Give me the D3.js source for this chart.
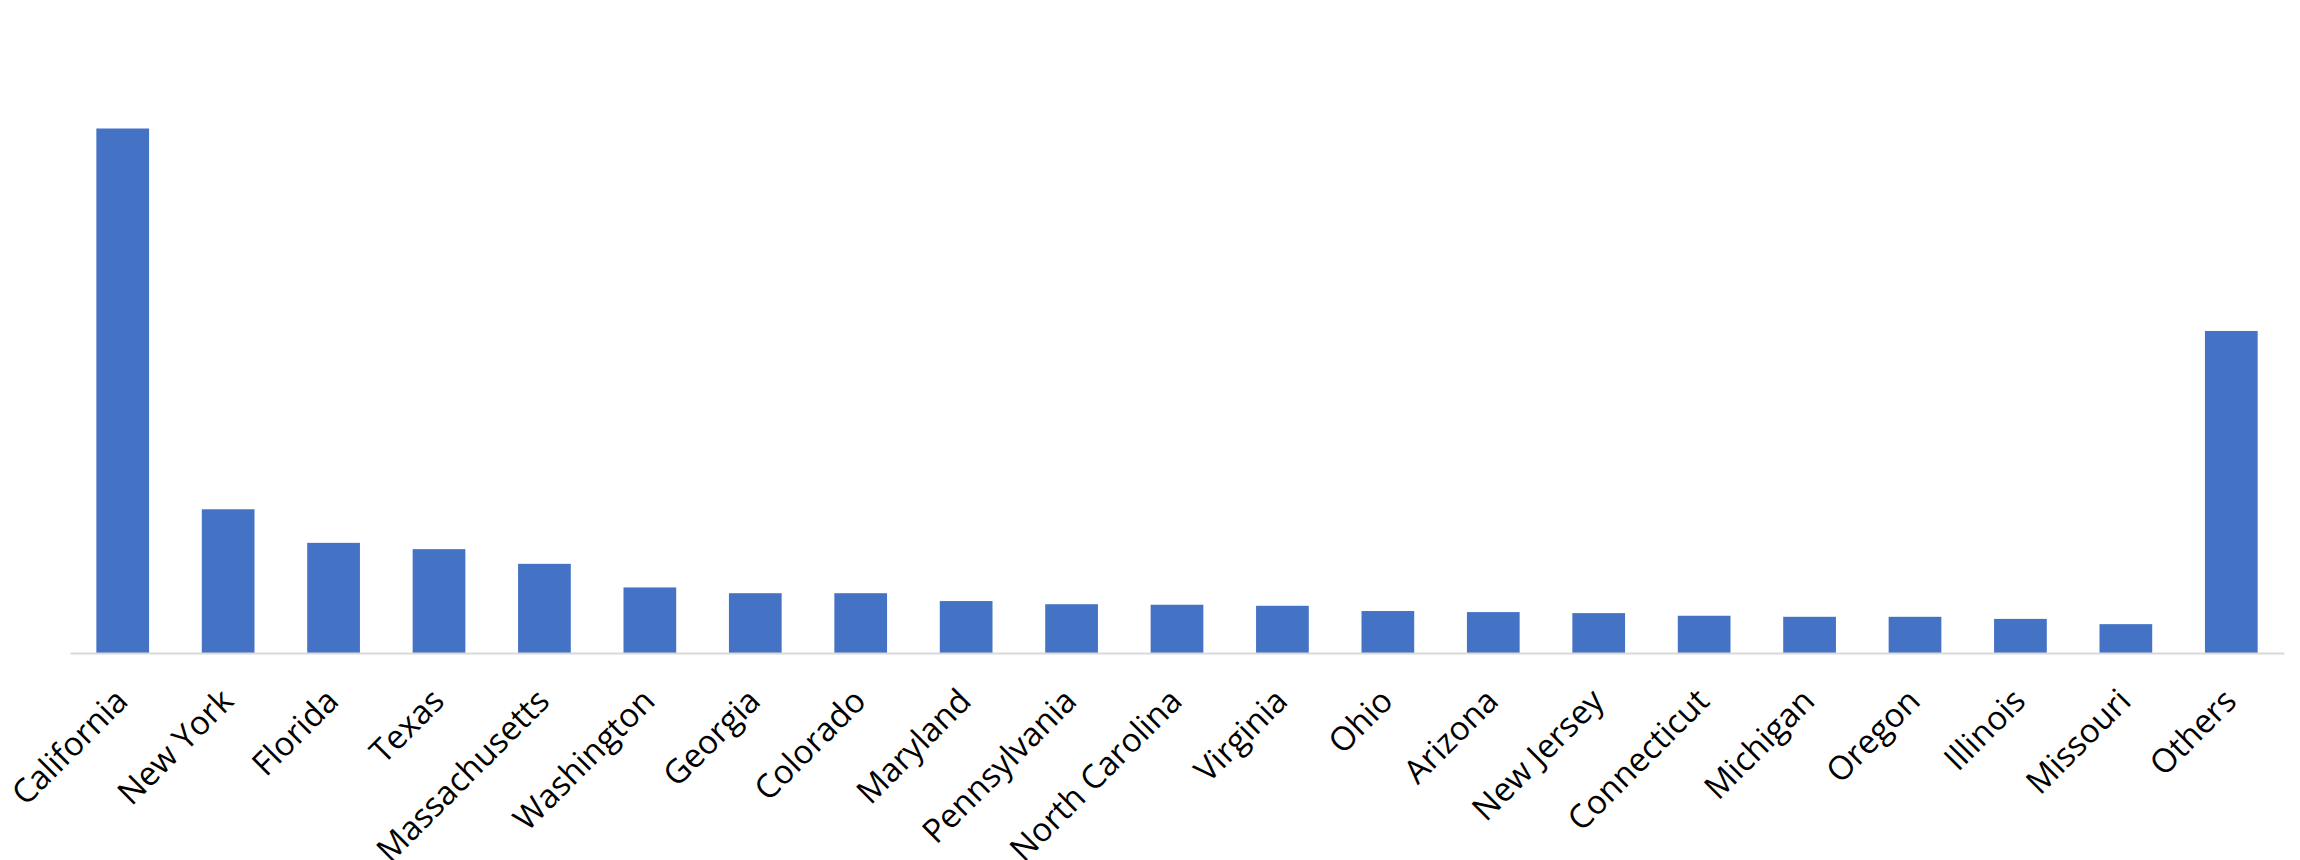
<!DOCTYPE html>
<html>
<head>
<meta charset="utf-8">
<script src="https://cdn.jsdelivr.net/npm/d3@7"></script>
<style>
  html, body { margin: 0; padding: 0; background: #ffffff; }
  svg { display: block; }
</style>
</head>
<body>
<svg id="chart" width="2300" height="860"></svg>
<script>
const categories = ["California","New York","Florida","Texas","Massachusetts","Washington","Georgia","Colorado","Maryland","Pennsylvania","North Carolina","Virginia","Ohio","Arizona","New Jersey","Connecticut","Michigan","Oregon","Illinois","Missouri","Others"];
const values = [100, 27.4, 21.0, 19.8, 17.0, 12.5, 11.4, 11.4, 9.9, 9.3, 9.2, 9.0, 8.0, 7.8, 7.6, 7.1, 6.9, 6.9, 6.5, 5.5, 61.4];

const svg = d3.select("#chart");
const W = 2300, H = 860;
const margin = { left: 70, right: 16, top: 24, baseline: 653 };

const x = d3.scaleBand()
  .domain(categories)
  .range([margin.left, W - margin.right])
  .paddingInner(0.5)
  .paddingOuter(0.25);

const y = d3.scaleLinear()
  .domain([0, 120])
  .range([margin.baseline, margin.baseline - 524.5 * 1.2]);

const data = categories.map((c, i) => ({ cat: c, val: values[i] }));

svg.append("g").selectAll("rect")
  .data(data)
  .join("rect")
  .attr("x", d => x(d.cat))
  .attr("width", x.bandwidth())
  .attr("y", d => y(d.val))
  .attr("height", d => y(0) - y(d.val))
  .attr("fill", "#4472C4");

const axis = d3.axisBottom(x).tickSize(0).tickPadding(0);
const gx = svg.append("g")
  .attr("transform", `translate(0,${y(0)})`)
  .call(axis);
gx.select(".domain").attr("stroke", "#d9d9d9").attr("stroke-width", 2);
gx.selectAll(".tick text")
  .attr("font-family", "'Open Sans', 'Noto Sans', sans-serif")
  .attr("font-size", 33)
  .attr("fill", "#000")
  .attr("text-anchor", "end")
  .attr("dy", null)
  .attr("y", null)
  .attr("transform", "translate(7,50) rotate(-45)");
</script>
</body>
</html>
